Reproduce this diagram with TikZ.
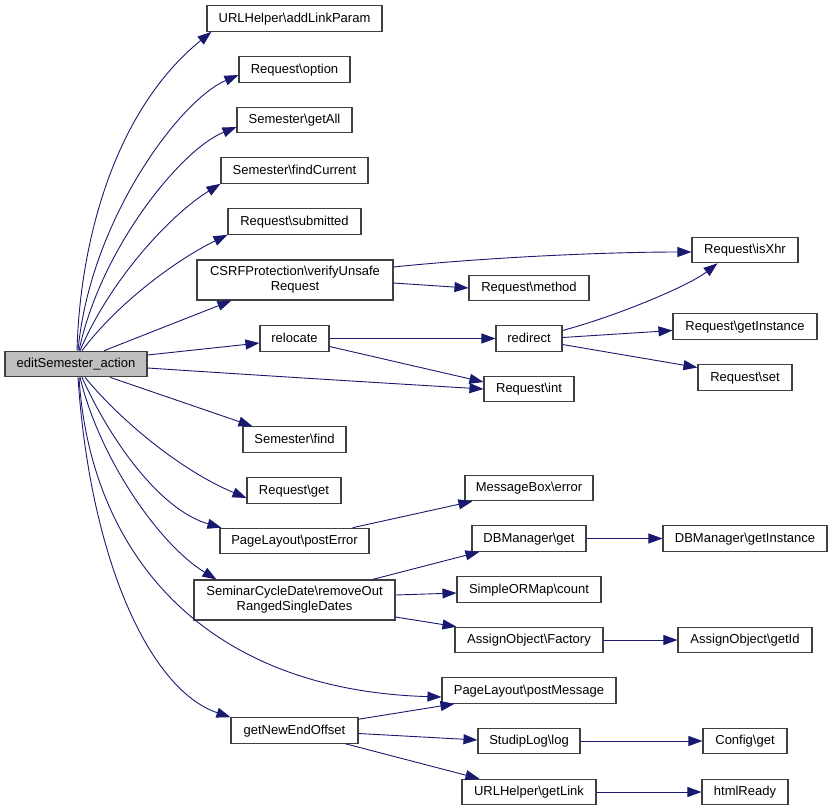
\documentclass[tikz,border=0pt]{standalone}
\usepackage{fontspec}
\setmainfont{Liberation Sans}
\usetikzlibrary{arrows.meta}
\definecolor{edgeblue}{HTML}{191970}
\definecolor{boxborder}{HTML}{404040}
\definecolor{rootfill}{HTML}{BFBFBF}
\begin{document}
\begin{tikzpicture}[x=1pt,y=-1pt,
  basebox/.style={draw=boxborder, fill=white, line width=1.1pt, inner sep=0pt,
    minimum height=25.5pt, font=\fontsize{13}{15}\selectfont},
  fnbox/.style={basebox, text height=10pt, text depth=3pt},
  twobox/.style={basebox, minimum height=40pt, align=center},
  call/.style={draw=edgeblue, line width=0.9pt, -{Triangle[length=14pt,width=10pt]}}]
\useasboundingbox (0,0) rectangle (832,811);
% nodes
\node[fnbox, fill=rootfill, minimum width=142pt] (E) at (76,364) {editSemester\_action};
\node[fnbox, minimum width=175pt] (addlink) at (294.5,18.5) {URLHelper\textbackslash addLinkParam};
\node[fnbox, minimum width=111pt] (option) at (294.5,69.5) {Request\textbackslash option};
\node[fnbox, minimum width=115pt] (getall) at (294.5,120) {Semester\textbackslash getAll};
\node[fnbox, minimum width=147pt] (findcur) at (294.5,170.5) {Semester\textbackslash findCurrent};
\node[fnbox, minimum width=133pt] (submitted) at (294.5,221.5) {Request\textbackslash submitted};
\node[twobox, minimum width=196pt] (csrf) at (295,280) {CSRFProtection\textbackslash verifyUnsafe\\Request};
\node[fnbox, minimum width=69pt] (relocate) at (294.5,338.5) {relocate};
\node[fnbox, minimum width=103pt] (find) at (294.5,439.5) {Semester\textbackslash find};
\node[fnbox, minimum width=94pt] (rget) at (294,490.5) {Request\textbackslash get};
\node[fnbox, minimum width=149pt] (posterr) at (294.5,541) {PageLayout\textbackslash postError};
\node[twobox, minimum width=201pt] (scd) at (294.5,600) {SeminarCycleDate\textbackslash removeOut\\RangedSingleDates};
\node[fnbox, minimum width=127pt] (gneo) at (294.5,730.5) {getNewEndOffset};
\node[fnbox, minimum width=106pt] (isxhr) at (745,250) {Request\textbackslash isXhr};
\node[fnbox, minimum width=120pt] (method) at (529,288) {Request\textbackslash method};
\node[fnbox, minimum width=66pt] (redirect) at (529,338.5) {redirect};
\node[fnbox, minimum width=144pt] (rgetinst) at (745,326.5) {Request\textbackslash getInstance};
\node[fnbox, minimum width=94pt] (rset) at (745,377.5) {Request\textbackslash set};
\node[fnbox, minimum width=90pt] (rint) at (529,389) {Request\textbackslash int};
\node[fnbox, minimum width=128pt] (msgerr) at (529,488) {MessageBox\textbackslash error};
\node[fnbox, minimum width=114pt] (dbget) at (529,538.5) {DBManager\textbackslash get};
\node[fnbox, minimum width=164pt] (dbinst) at (745,538.5) {DBManager\textbackslash getInstance};
\node[fnbox, minimum width=144pt] (count) at (529,589.5) {SimpleORMap\textbackslash count};
\node[fnbox, minimum width=148pt] (factory) at (529,640) {AssignObject\textbackslash Factory};
\node[fnbox, minimum width=134pt] (getid) at (745,640) {AssignObject\textbackslash getId};
\node[fnbox, minimum width=174pt] (postmsg) at (529,690.5) {PageLayout\textbackslash postMessage};
\node[fnbox, minimum width=102pt] (slog) at (529,741) {StudipLog\textbackslash log};
\node[fnbox, minimum width=84pt] (cfg) at (745,741) {Config\textbackslash get};
\node[fnbox, minimum width=134pt] (getlink) at (529,792) {URLHelper\textbackslash getLink};
\node[fnbox, minimum width=86pt] (html) at (745,792) {htmlReady};
% edges from root
\draw[call] ([xshift=1pt]E.north) .. controls (80,240) and (115,110) .. ([xshift=5pt]addlink.south west);
\draw[call] ([xshift=2pt]E.north) .. controls (90,220) and (180,100) .. ([yshift=-5.5pt]option.west);
\draw[call] ([xshift=3pt]E.north) .. controls (100,250) and (180,150) .. ([yshift=-7pt]getall.west);
\draw[call] ([xshift=4pt]E.north) .. controls (110,280) and (170,215) .. (findcur.south west);
\draw[call] ([xshift=6pt]E.north) .. controls (120,300) and (180,258) .. (submitted.south west);
\draw[call] ([xshift=28pt]E.north) -- ([xshift=35pt]csrf.south west);
\draw[call] ([yshift=9pt]E.east) -- ([yshift=-4.5pt]relocate.west);
\draw[call] ([yshift=-4pt]E.east) .. controls (300,378) and (400,384) .. (rint.west);
\draw[call] ([xshift=34pt]E.south) -- ([xshift=10pt]find.north west);
\draw[call] ([xshift=9pt]E.south) .. controls (120,420) and (180,470) .. ([yshift=-7.5pt]rget.west);
\draw[call] ([xshift=6pt]E.south) .. controls (110,440) and (160,510) .. ([xshift=2pt]posterr.north west);
\draw[call] ([xshift=4pt]E.south) .. controls (100,460) and (160,545) .. ([xshift=23pt]scd.north west);
\draw[call] ([xshift=3pt]E.south) .. controls (90,550) and (200,690) .. ([yshift=-6.5pt]postmsg.west);
\draw[call] ([xshift=2pt]E.south) .. controls (90,560) and (150,690) .. (gneo.north west);
% other edges
\draw[call] ([yshift=13pt]csrf.east) .. controls (480,258) and (600,252) .. ([yshift=-2pt]isxhr.west);
\draw[call] ([yshift=-3pt]csrf.east) -- (method.west);
\draw[call] (relocate.east) -- (redirect.west);
\draw[call] ([yshift=-8pt]relocate.east) -- ([yshift=7pt]rint.west);
\draw[call] ([yshift=8pt]redirect.east) .. controls (620,315) and (690,285) .. ([xshift=26pt]isxhr.south west);
\draw[call] ([yshift=1pt]redirect.east) -- ([yshift=-4pt]rgetinst.west);
\draw[call] ([yshift=-6pt]redirect.east) -- ([yshift=10pt]rset.west);
\draw[call] ([xshift=-17pt]posterr.north east) -- ([xshift=8pt]msgerr.south west);
\draw[call] ([xshift=-23pt]scd.north east) -- ([xshift=8pt]dbget.south west);
\draw[call] ([yshift=5pt]scd.east) -- ([yshift=-3.5pt]count.west);
\draw[call] ([yshift=-17pt]scd.east) -- ([xshift=2pt]factory.north west);
\draw[call] ([yshift=-2pt]gneo.north east) -- ([xshift=13pt]postmsg.south west);
\draw[call] ([yshift=-3pt]gneo.east) -- ([yshift=1pt]slog.west);
\draw[call] ([xshift=-13pt]gneo.south east) -- ([xshift=18pt]getlink.north west);
\draw[call] (dbget.east) -- (dbinst.west);
\draw[call] (factory.east) -- (getid.west);
\draw[call] (slog.east) -- (cfg.west);
\draw[call] (getlink.east) -- (html.west);
\end{tikzpicture}
\end{document}
